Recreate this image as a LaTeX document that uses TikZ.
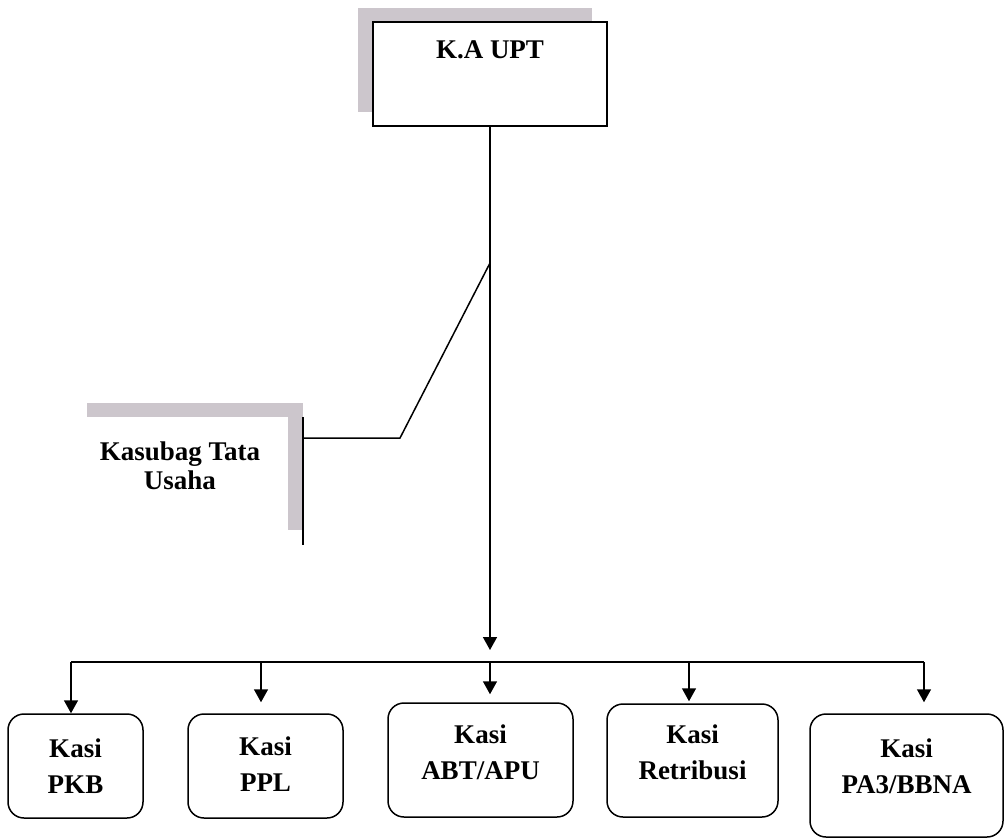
\documentclass[tikz,border=0pt]{standalone}
\usepackage{fontspec}
\setmainfont{Liberation Serif}
\usetikzlibrary{arrows.meta,calc,positioning}
\definecolor{shadowgray}{RGB}{204,198,204}
\tikzset{
  ln/.style={line width=1.5pt},
  arr/.style={line width=1.5pt, -{Triangle[length=13pt,width=14pt]}},
  kasi/.style={draw, line width=1.5pt, rounded corners=16pt, inner sep=0pt},
  txt/.style={font=\fontsize{27}{36}\selectfont\bfseries, align=center, inner sep=0pt}
}
\begin{document}
\begin{tikzpicture}[x=1pt,y=-1pt]
\useasboundingbox (0,0) rectangle (1004,838);

\fill[shadowgray] (358,8) rectangle (592,112);
\node[draw, fill=white, line width=1.8pt, minimum width=234pt, minimum height=104pt] (kaupt) at (490,74) {};
\node[txt] (katext) at (490,50) {K.A UPT};

\fill[shadowgray] (87,403) rectangle (303,417);
\fill[shadowgray] (288,417) rectangle (303,530);
\node[minimum width=201pt, minimum height=128pt, inner sep=0pt] (tu) at (202.5,481) {};
\draw[ln] (tu.north east) -- (tu.south east);
\node[txt] (tutext) at (180,466) {Kasubag Tata\\[-7pt]Usaha};

\coordinate (split) at (490,263);
\coordinate (bend) at (400,438);
\draw[ln] (split) -- (bend) -- (bend -| tu.east);

\node[kasi, minimum width=135pt, minimum height=104pt] (pkb) at (75.5,766) {};
\node[kasi, minimum width=155pt, minimum height=104pt] (ppl) at (265.5,766) {};
\node[kasi, minimum width=185pt, minimum height=114pt] (abt) at (480.5,760) {};
\node[kasi, minimum width=171pt, minimum height=113pt] (ret) at (692.5,760.5) {};
\node[kasi, minimum width=193pt, minimum height=123pt] (pa3) at (906.5,775.5) {};

\node[txt] (pkbt) at (pkb.center) {Kasi\\PKB};
\node[txt] (pplt) at ([yshift=2pt]ppl.center) {Kasi\\PPL};
\node[txt] (abtt) at ([yshift=8pt]abt.center) {Kasi\\ABT/APU};
\node[txt] (rett) at ([yshift=8pt]ret.center) {Kasi\\Retribusi};
\node[txt] (pa3t) at ([yshift=9pt]pa3.center) {Kasi\\PA3/BBNA};

\coordinate (jpkb) at (71,662);
\coordinate (jppl) at (261,662);
\coordinate (jabt) at (490,662);
\coordinate (jret) at (689,662);
\coordinate (jpa3) at (924,662);

\draw[arr, shorten >=12pt] (kaupt.south) -- (jabt);
\draw[ln] (jpkb) -- (jpa3);
\draw[arr] (jpkb) -- (jpkb |- pkb.north);
\draw[arr, shorten >=11pt] (jppl) -- (jppl |- ppl.north);
\draw[arr, shorten >=8pt] (jabt) -- (jabt |- abt.north);
\draw[arr, shorten >=2pt] (jret) -- (jret |- ret.north);
\draw[arr, shorten >=11pt] (jpa3) -- (jpa3 |- pa3.north);

\end{tikzpicture}
\end{document}
